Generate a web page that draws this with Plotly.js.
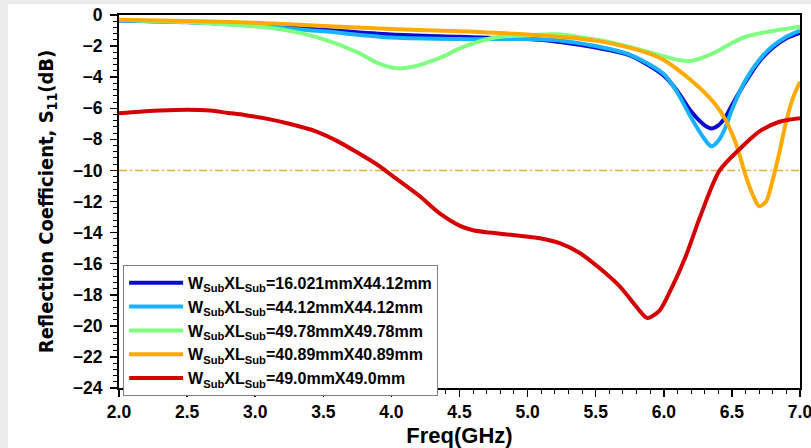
<!DOCTYPE html>
<html>
<head>
<meta charset="utf-8">
<script src="https://cdn.plot.ly/plotly-3.0.1.min.js"></script>
<style>
  html, body { margin: 0; padding: 0; background: #ffffff; }
  #chart { width: 811px; height: 448px; }
</style>
</head>
<body>
<div id="chart"></div>
<script>
// S11 sweeps for five substrate sizes (frequency in GHz, S11 in dB)
const freqDarkBlue = [2.0, 2.5, 3.0, 3.5, 4.0, 4.5, 5.0, 5.25, 5.5, 5.75, 6.0, 6.1, 6.2, 6.3, 6.35, 6.4, 6.45, 6.5, 6.6, 6.7, 6.8, 6.9, 7.0];
const s11DarkBlue  = [-0.35, -0.45, -0.65, -0.95, -1.25, -1.4, -1.55, -1.75, -2.1, -2.6, -3.9, -4.9, -6.2, -7.1, -7.3, -7.1, -6.6, -5.8, -4.3, -3.0, -2.1, -1.5, -1.15];

const freqLightBlue = [2.0, 2.5, 3.0, 3.5, 4.0, 4.5, 5.0, 5.25, 5.5, 5.75, 6.0, 6.1, 6.2, 6.3, 6.35, 6.4, 6.45, 6.5, 6.6, 6.7, 6.8, 6.9, 7.0];
const s11LightBlue  = [-0.35, -0.47, -0.7, -1.05, -1.45, -1.55, -1.55, -1.65, -2.0, -2.55, -3.8, -5.0, -6.6, -8.0, -8.45, -8.1, -7.3, -6.1, -4.2, -2.9, -2.0, -1.4, -1.0];

const freqGreen = [2.0, 2.5, 2.75, 3.0, 3.25, 3.5, 3.75, 3.9, 4.04, 4.15, 4.25, 4.4, 4.5, 4.75, 5.0, 5.25, 5.4, 5.6, 5.75, 6.0, 6.1, 6.2, 6.3, 6.4, 6.5, 6.6, 6.75, 6.85, 7.0];
const s11Green  = [-0.32, -0.45, -0.58, -0.73, -1.02, -1.55, -2.4, -3.1, -3.43, -3.35, -3.1, -2.6, -2.15, -1.46, -1.3, -1.25, -1.45, -1.75, -2.05, -2.65, -2.88, -2.96, -2.7, -2.3, -1.8, -1.4, -1.1, -0.95, -0.75];

const freqOrange = [2.0, 2.5, 3.0, 3.5, 4.0, 4.5, 5.0, 5.3, 5.5, 5.7, 5.9, 6.0, 6.1, 6.2, 6.3, 6.4, 6.45, 6.5, 6.55, 6.6, 6.65, 6.7, 6.75, 6.8, 6.85, 6.9, 6.95, 7.0];
const s11Orange  = [-0.3, -0.38, -0.5, -0.7, -0.9, -1.05, -1.25, -1.45, -1.65, -2.0, -2.5, -2.9, -3.5, -4.2, -5.0, -6.0, -6.7, -7.6, -8.8, -10.3, -11.5, -12.3, -12.0, -10.6, -8.8, -6.8, -5.3, -4.3];

const freqRed = [2.0, 2.15, 2.3, 2.5, 2.67, 2.8, 2.92, 3.1, 3.25, 3.45, 3.6, 3.75, 3.9, 4.0, 4.2, 4.36, 4.5, 4.6, 4.72, 4.89, 5.09, 5.24, 5.38, 5.53, 5.68, 5.82, 5.88, 5.97, 6.05, 6.16, 6.27, 6.41, 6.56, 6.7, 6.85, 7.0];
const s11Red  = [-6.33, -6.22, -6.15, -6.1, -6.15, -6.3, -6.43, -6.7, -7.0, -7.5, -8.1, -8.85, -9.65, -10.3, -11.6, -12.8, -13.55, -13.85, -14.0, -14.16, -14.37, -14.7, -15.3, -16.3, -17.5, -19.0, -19.5, -19.0, -17.7, -15.55, -12.9, -10.0, -8.6, -7.5, -6.87, -6.65];

// -10 dB reference level
const refFreq = [2.0, 7.0];
const refLevel = [-10, -10];

const seriesNames = [
  'W<sub>Sub</sub>XL<sub>Sub</sub>=16.021mmX44.12mm',
  'W<sub>Sub</sub>XL<sub>Sub</sub>=44.12mmX44.12mm',
  'W<sub>Sub</sub>XL<sub>Sub</sub>=49.78mmX49.78mm',
  'W<sub>Sub</sub>XL<sub>Sub</sub>=40.89mmX40.89mm',
  'W<sub>Sub</sub>XL<sub>Sub</sub>=49.0mmX49.0mm'
];
const xTickVals = [2.0, 2.5, 3.0, 3.5, 4.0, 4.5, 5.0, 5.5, 6.0, 6.5, 7.0];
const yTickVals = [0, -2, -4, -6, -8, -10, -12, -14, -16, -18, -20, -22, -24];

function curve(x, y, name, color) {
  return {
    x: x, y: y, name: name, type: 'scatter', mode: 'lines',
    line: { color: color, width: 4, shape: 'spline', smoothing: 0.8 }
  };
}

const traces = [
  {
    x: refFreq, y: refLevel, type: 'scatter', mode: 'lines', showlegend: false,
    hoverinfo: 'skip',
    line: { color: '#e8b04a', width: 1.5, dash: '8px,3px,2px,3px' }
  },
  curve(freqDarkBlue, s11DarkBlue, seriesNames[0], '#0a0ad0'),
  curve(freqLightBlue, s11LightBlue, seriesNames[1], '#1ab2ff'),
  curve(freqGreen, s11Green, seriesNames[2], '#80ff80'),
  curve(freqOrange, s11Orange, seriesNames[3], '#ffaa00'),
  curve(freqRed, s11Red, seriesNames[4], '#d40000')
];

const tickFont = { family: 'Arial, "Liberation Sans", sans-serif', size: 17.5, color: '#000000', weight: 'bold' };

const layout = {
  width: 811, height: 448,
  margin: { l: 119, r: 11, t: 15, b: 60 },
  paper_bgcolor: '#ffffff', plot_bgcolor: '#ffffff',
  showlegend: true,
  legend: {
    x: 0.006, y: 0.33, xanchor: 'left', yanchor: 'top',
    bgcolor: '#ffffff', bordercolor: '#808080', borderwidth: 1,
    font: { family: 'Arial, "Liberation Sans", sans-serif', size: 16, color: '#000000', weight: 'bold' },
    tracegroupgap: 0, itemwidth: 54
  },
  xaxis: {
    range: [2, 7], tickvals: xTickVals, tickformat: '.1f',
    ticklabeloverflow: 'allow',
    ticks: 'outside', ticklen: 7, tickwidth: 1.5, tickcolor: '#000000',
    minor: { dtick: 0.1, ticks: 'outside', ticklen: 4, tickwidth: 1, tickcolor: '#000000' },
    showline: true, linecolor: '#000000', linewidth: 2, mirror: true,
    showgrid: false, zeroline: false,
    tickfont: tickFont,
    title: { text: 'Freq(GHz)', standoff: 8,
             font: { family: 'Arial, "Liberation Sans", sans-serif', size: 22, color: '#000000', weight: 'bold' } }
  },
  yaxis: {
    range: [-24, 0], tickvals: yTickVals,
    ticks: 'outside', ticklen: 7, tickwidth: 1.5, tickcolor: '#000000',
    minor: { dtick: 0.4, ticks: 'outside', ticklen: 4, tickwidth: 1, tickcolor: '#000000' },
    showline: true, linecolor: '#000000', linewidth: 2, mirror: true,
    showgrid: false, zeroline: false,
    ticklabelstandoff: 4,
    tickfont: tickFont,
    title: { text: 'Reflection Coefficient, S<sub>11</sub>(dB)', standoff: 14,
             font: { family: '"DejaVu Sans Condensed", "Liberation Sans Narrow", Arial, sans-serif', size: 20, color: '#000000', weight: 'bold' } }
  },
  shapes: [
    // light window frame along the top and left edges
    { type: 'rect', xref: 'paper', yref: 'paper', x0: -0.1747, x1: 1.02, y0: 1.029, y1: 1.0402,
      fillcolor: '#ececec', line: { width: 0 }, layer: 'below' },
    { type: 'rect', xref: 'paper', yref: 'paper', x0: -0.1747, x1: -0.163, y0: -0.2, y1: 1.0402,
      fillcolor: '#ececec', line: { width: 0 }, layer: 'below' }
  ]
};

Plotly.newPlot('chart', traces, layout, { displayModeBar: false, staticPlot: true });
</script>
</body>
</html>
